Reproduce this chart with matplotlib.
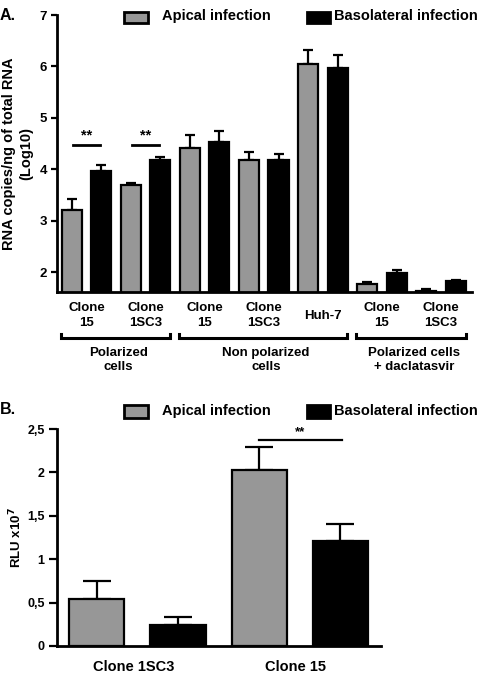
import matplotlib
matplotlib.use("Agg")
import matplotlib.pyplot as plt
from matplotlib.patches import Rectangle

plt.rcParams['font.family'] = ['Liberation Sans', 'DejaVu Sans']
plt.rcParams['font.weight'] = 'bold'

# ---------------- data ----------------
series_names = ["Apical infection", "Basolateral infection"]
colors = ["#979797", "#000000"]

# Panel A
catA = ["Clone\n15", "Clone\n1SC3", "Clone\n15", "Clone\n1SC3", "Huh-7", "Clone\n15", "Clone\n1SC3"]
apicalA = [3.22, 3.69, 4.41, 4.19, 6.05, 1.77, 1.64]
apicalA_err = [0.20, 0.05, 0.25, 0.15, 0.27, 0.04, 0.04]
basalA = [3.97, 4.19, 4.53, 4.19, 5.98, 1.98, 1.83]
basalA_err = [0.11, 0.06, 0.21, 0.11, 0.24, 0.06, 0.02]
groupsA = ["Polarized\ncells", "Non polarized\ncells", "Polarized cells\n+ daclatasvir"]
group_members = [(0, 1), (2, 4), (5, 6)]
sigA_pairs = [0, 1]
yticksA = [2, 3, 4, 5, 6, 7]

# Panel B
catB = ["Clone 1SC3", "Clone 15"]
apicalB = [0.54, 2.03]
apicalB_err = [0.21, 0.26]
basalB = [0.245, 1.21]
basalB_err = [0.085, 0.195]
yticksB = [0, 0.5, 1, 1.5, 2, 2.5]
yticklabelsB = ["0", "0,5", "1", "1,5", "2", "2,5"]

W, H = 480, 678
fig = plt.figure(figsize=(W / 100, H / 100), dpi=100)


def fx(x):
    return x / W


def fy(y):
    return 1 - y / H


def style_axes(ax, ticklen, labelsize):
    for s in ["top", "right"]:
        ax.spines[s].set_visible(False)
    for s in ["left", "bottom"]:
        ax.spines[s].set_linewidth(2.0)
    ax.tick_params(axis="y", length=ticklen, width=1.6, labelsize=labelsize, pad=3)
    ax.tick_params(axis="x", length=0)
    for lab in ax.get_yticklabels():
        lab.set_fontweight("bold")


def draw_bars(ax, pos, vals, errs, color, width, capsize):
    ax.bar(pos, vals, width=width, color=color, edgecolor="black", linewidth=1.6, zorder=2)
    ax.errorbar(pos, vals, yerr=[[0] * len(vals), errs], fmt="none", ecolor="black",
                elinewidth=1.6, capsize=capsize, capthick=1.6, zorder=1)


# ---------------- Panel A ----------------
axA = fig.add_axes([fx(57), fy(292), fx(472) - fx(57), fy(15) - fy(292)])
n = len(apicalA)
posA_ap = [2 * i for i in range(n)]
posA_ba = [2 * i + 1 for i in range(n)]
draw_bars(axA, posA_ap, apicalA, apicalA_err, colors[0], 0.68, 3.5)
draw_bars(axA, posA_ba, basalA, basalA_err, colors[1], 0.68, 3.5)
axA.set_xlim(-0.5, 2 * n - 0.45)
axA.set_ylim(1.62, 7)
axA.set_yticks(yticksA)
axA.set_xticks([])
style_axes(axA, 4, 9.5)
axA.set_ylabel("RNA copies/ng of total RNA\n(Log10)", fontsize=10.5, fontweight="bold",
               labelpad=5, linespacing=1.3)

tA = axA.get_xaxis_transform()
for i, lab in enumerate(catA):
    axA.text(2 * i + 0.5, -0.085, lab, transform=tA, ha="center", va="center",
             fontsize=9.5, fontweight="bold", linespacing=1.25, clip_on=False)

for (a, b), g in zip(group_members, groupsA):
    x0 = 2 * a - 0.37
    x1 = 2 * b + 1 + 0.33
    yb = -0.166
    axA.plot([x0, x0, x1, x1], [yb + 0.016, yb, yb, yb + 0.016], color="black", lw=2.2,
             transform=tA, clip_on=False, solid_joinstyle="miter")
    axA.text((x0 + x1) / 2 + 0.1, -0.245, g, transform=tA, ha="center", va="center",
             fontsize=9.5, fontweight="bold", linespacing=1.25, clip_on=False)

for i in sigA_pairs:
    axA.plot([2 * i + 0.05, 2 * i + 0.95], [4.47, 4.47], color="black", lw=2.0)
    axA.text(2 * i + 0.5, 4.52, "**", ha="center", va="bottom", fontsize=10.5, fontweight="bold")

# ---------------- Panel B ----------------
axB = fig.add_axes([fx(57), fy(646), fx(381) - fx(57), fy(429) - fy(646)])
m = len(apicalB)
posB_ap = [2 * i for i in range(m)]
posB_ba = [2 * i + 1 for i in range(m)]
draw_bars(axB, posB_ap, apicalB, apicalB_err, colors[0], 0.68, 10)
draw_bars(axB, posB_ba, basalB, basalB_err, colors[1], 0.68, 10)
axB.set_xlim(-0.49, 2 * m - 0.5)
axB.set_ylim(0, 2.5)
axB.set_yticks(yticksB)
axB.set_yticklabels(yticklabelsB)
axB.set_xticks([])
style_axes(axB, 6, 9)
axB.set_ylabel(r"RLU x10$^\mathbf{7}$", fontsize=9.5, fontweight="bold", labelpad=2)

tB = axB.get_xaxis_transform()
for i, lab in enumerate(catB):
    axB.text(2 * i + 0.45, -0.095, lab, transform=tB, ha="center", va="center",
             fontsize=10.5, fontweight="bold", clip_on=False)

axB.plot([2, 3.02], [2.37, 2.37], color="black", lw=1.6)
axB.text(2.5, 2.39, "**", ha="center", va="bottom", fontsize=9.5, fontweight="bold")

# ---------------- legends & panel letters ----------------
def legend_row(ytop, ybot, ytext):
    fig.add_artist(Rectangle((fx(124), fy(ybot)), fx(148) - fx(124), fy(ytop) - fy(ybot),
                             transform=fig.transFigure, facecolor=colors[0], edgecolor="black", lw=2))
    fig.text(fx(162), fy(ytext), series_names[0], ha="left", va="center", fontsize=10.5, fontweight="bold")
    fig.add_artist(Rectangle((fx(307), fy(ybot)), fx(330) - fx(307), fy(ytop) - fy(ybot),
                             transform=fig.transFigure, facecolor=colors[1], edgecolor="black", lw=2))
    fig.text(fx(334), fy(ytext), series_names[1], ha="left", va="center", fontsize=10.5, fontweight="bold")


legend_row(12, 23, 16)
legend_row(405, 418, 411)
fig.text(fx(0), fy(16), "A.", ha="left", va="center", fontsize=11.5, fontweight="bold")
fig.text(fx(0), fy(409), "B.", ha="left", va="center", fontsize=11.5, fontweight="bold")

fig.savefig("out.png", dpi=100)
